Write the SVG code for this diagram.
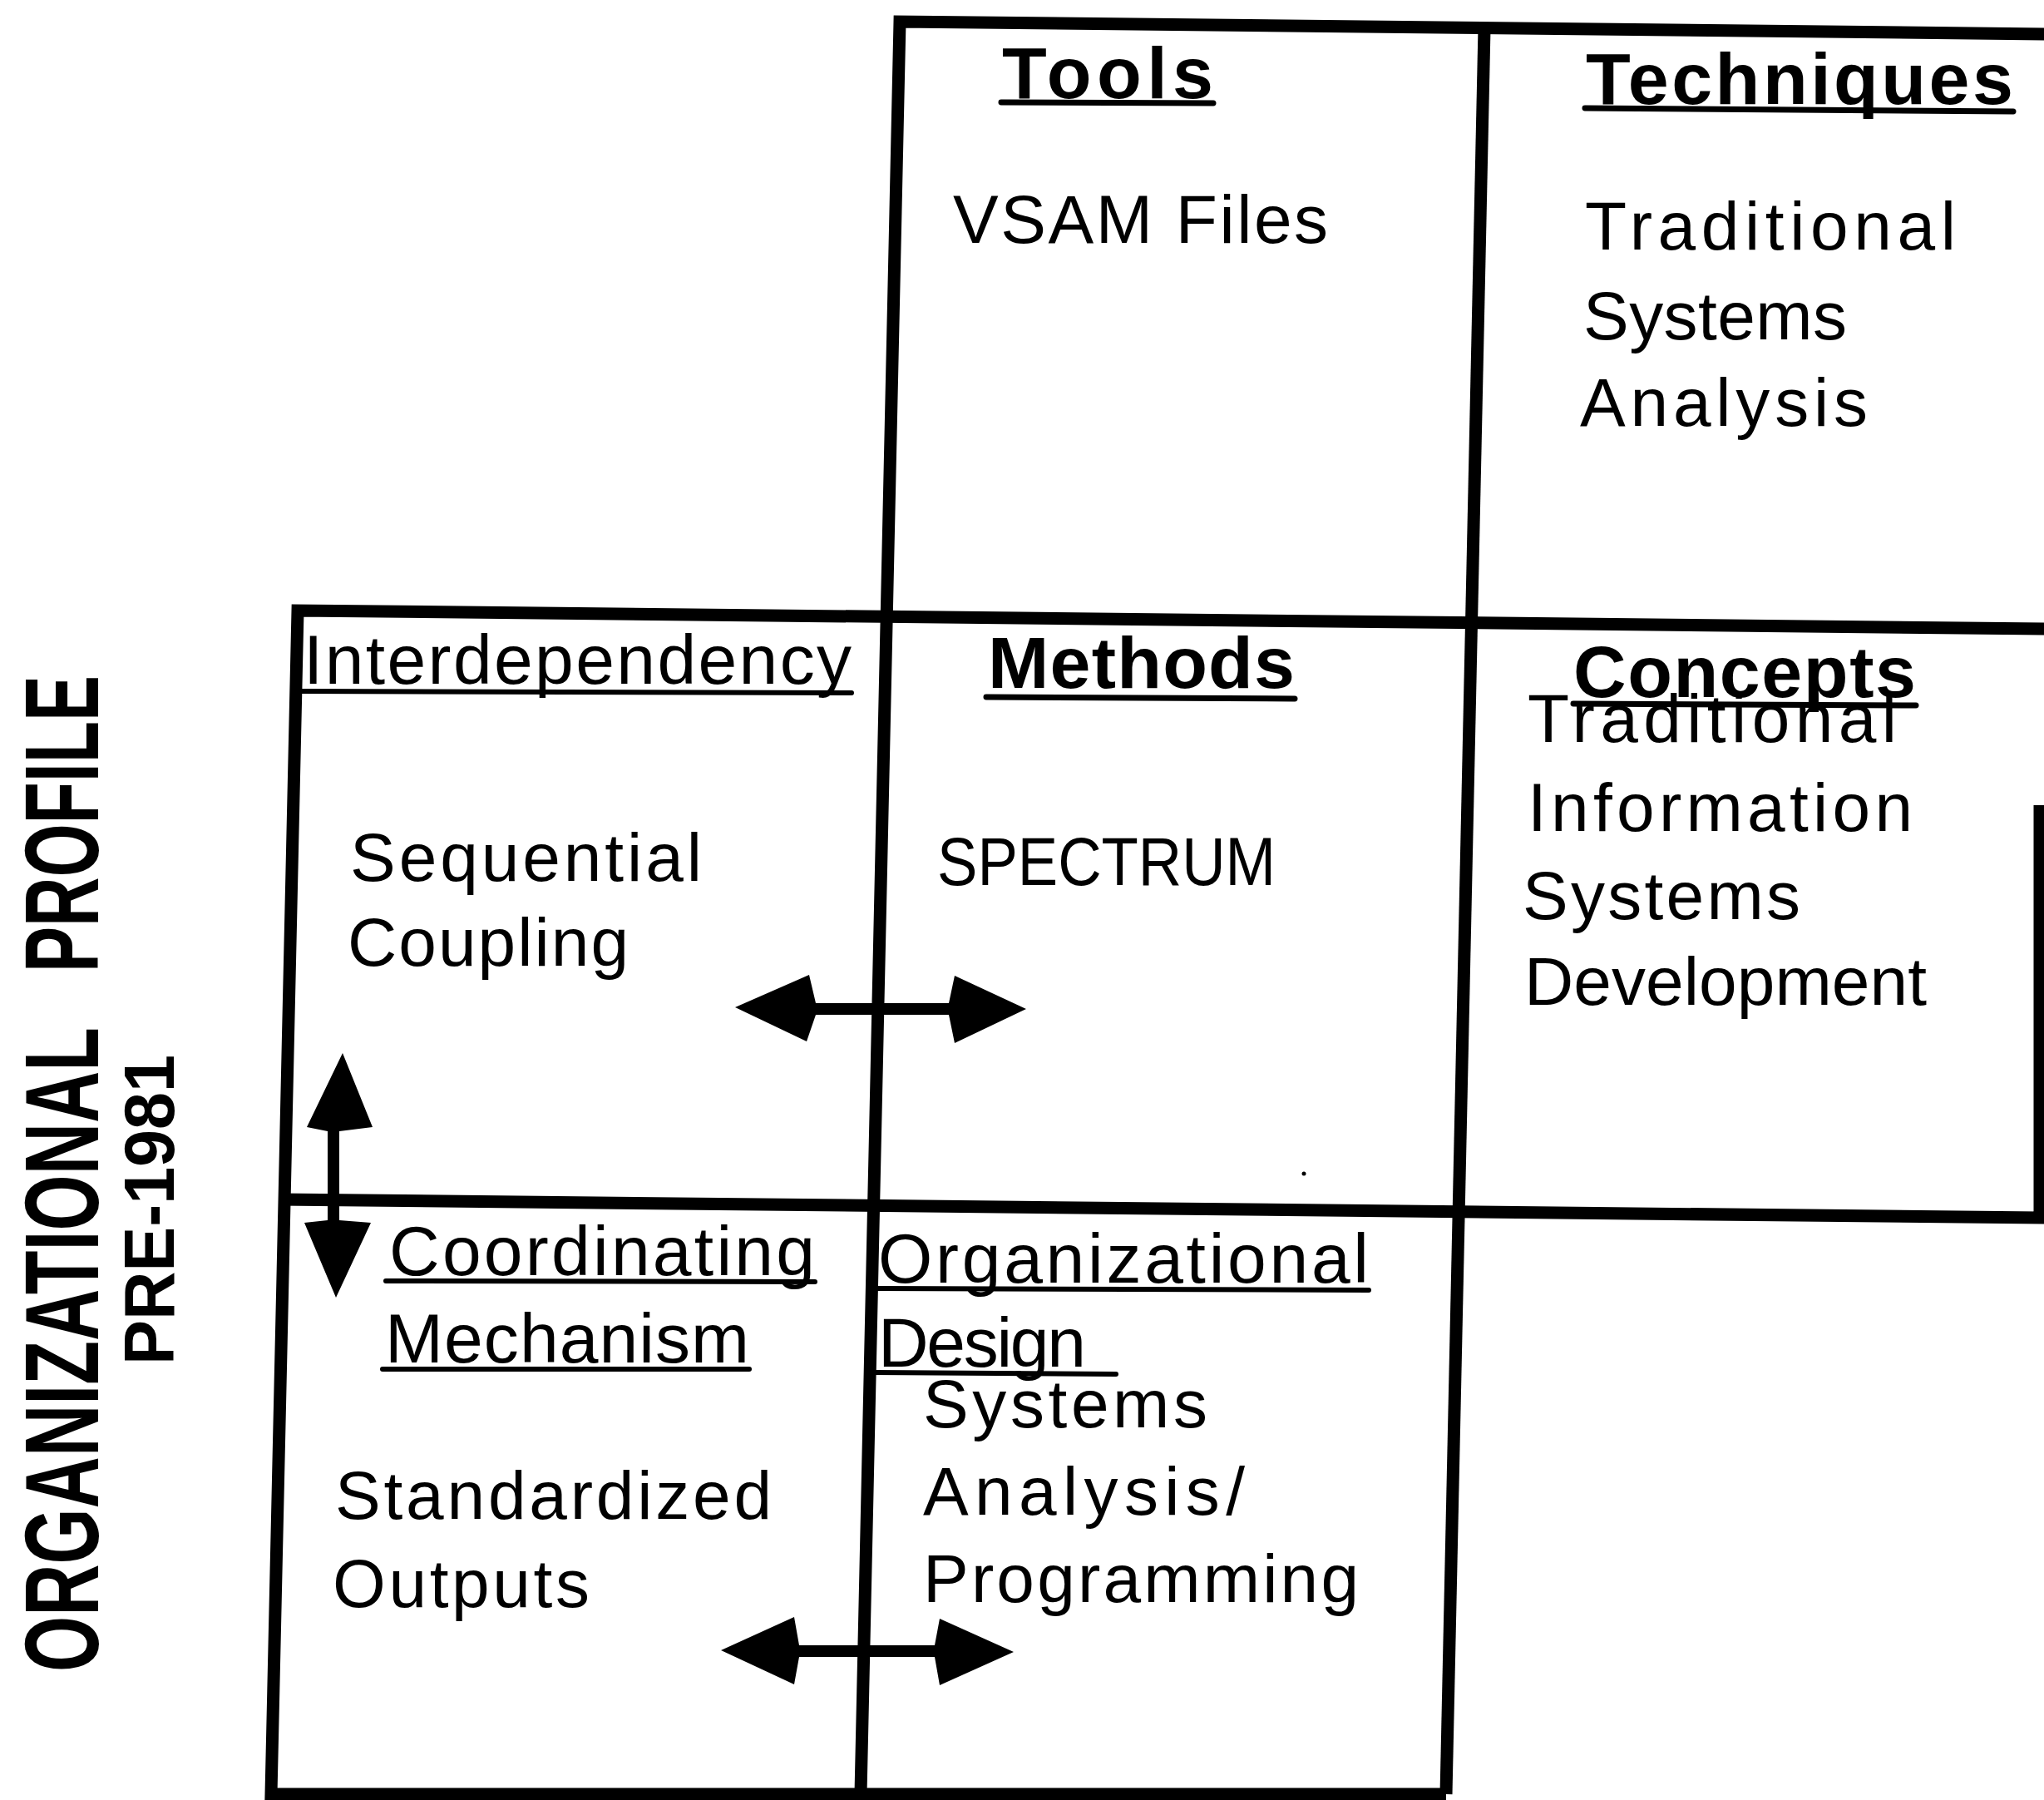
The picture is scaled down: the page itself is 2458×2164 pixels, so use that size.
<svg xmlns="http://www.w3.org/2000/svg" width="2458" height="2164" viewBox="0 0 2458 2164">
  <style>
    .grid { fill: none; stroke: #000; stroke-width: 15; stroke-linecap: butt; stroke-linejoin: miter; }
    .ul { stroke: #000; stroke-width: 7; stroke-linecap: round; }
    .ul-thin { stroke: #000; stroke-width: 6; stroke-linecap: round; }
    .head { font-family: "Liberation Sans", Arial, sans-serif; font-weight: bold; font-size: 88px; fill: #000; }
    .sub { font-family: "Liberation Sans", Arial, sans-serif; font-size: 84px; fill: #000; }
    .body { font-family: "Liberation Sans", Arial, sans-serif; font-size: 82px; fill: #000; }
    .title { font-family: "Liberation Sans", Arial, sans-serif; font-weight: bold; fill: #000; }
    .arrow { fill: #000; stroke: none; }
  </style>

  <!-- side title, read bottom to top -->
  <g id="side-title">
    <text class="title" font-size="126" transform="translate(118,2010) rotate(-90)" textLength="775" lengthAdjust="spacingAndGlyphs">ORGANIZATIONAL</text>
    <text class="title" font-size="126" transform="translate(118,1169) rotate(-90)" textLength="357" lengthAdjust="spacingAndGlyphs">PROFILE</text>
    <text class="title" font-size="86" transform="translate(209,1641) rotate(-90)" textLength="373" lengthAdjust="spacingAndGlyphs">PRE-1981</text>
  </g>

  <!-- cell borders -->
  <g id="grid">
    <path class="grid" d="M2465,41 L1082,26 L1035,2157"/>
    <path class="grid" d="M1785,34 L1739,2157"/>
    <path class="grid" d="M2465,756 L358,734 L326,2157 L1739,2157"/>
    <path class="grid" d="M336,1442 L2453,1464 L2453,968"/>
  </g>

  <g id="tools">
    <text class="head" x="1205" y="118" textLength="254" lengthAdjust="spacing">Tools</text>
    <line class="ul" x1="1204" y1="123" x2="1459" y2="124"/>
    <text class="body" x="1146" y="292" textLength="451" lengthAdjust="spacing">VSAM Files</text>
  </g>

  <g id="techniques">
    <text class="head" x="1907" y="125" textLength="514" lengthAdjust="spacing">Techniques</text>
    <line class="ul" x1="1906" y1="130" x2="2421" y2="134"/>
    <text class="body" x="1906" y="300" textLength="446" lengthAdjust="spacing">Traditional</text>
    <text class="body" x="1904" y="408" textLength="317" lengthAdjust="spacing">Systems</text>
    <text class="body" x="1900" y="512" textLength="346" lengthAdjust="spacing">Analysis</text>
  </g>

  <g id="interdependency">
    <text class="sub" x="365" y="822" textLength="659" lengthAdjust="spacing">Interdependency</text>
    <line class="ul-thin" x1="362" y1="831" x2="1024" y2="833"/>
    <text class="body" x="421" y="1059" textLength="423" lengthAdjust="spacing">Sequential</text>
    <text class="body" x="418" y="1161" textLength="338" lengthAdjust="spacing">Coupling</text>
  </g>

  <g id="methods">
    <text class="head" x="1188" y="827" textLength="369" lengthAdjust="spacing">Methods</text>
    <line class="ul" x1="1186" y1="838" x2="1557" y2="840"/>
    <text class="body" x="1127" y="1064" textLength="407" lengthAdjust="spacingAndGlyphs">SPECTRUM</text>
  </g>

  <g id="concepts">
    <text class="head" x="1892" y="838" textLength="412" lengthAdjust="spacing">Concepts</text>
    <line class="ul" x1="1892" y1="846" x2="2304" y2="848"/>
    <text class="body" x="1837" y="892" textLength="444" lengthAdjust="spacing">Traditional</text>
    <text class="body" x="1837" y="999" textLength="463" lengthAdjust="spacing">Information</text>
    <text class="body" x="1831" y="1105" textLength="334" lengthAdjust="spacing">Systems</text>
    <text class="body" x="1833" y="1208" textLength="484" lengthAdjust="spacing">Development</text>
  </g>

  <g id="coordinating-mechanism">
    <text class="sub" x="468" y="1533" textLength="512" lengthAdjust="spacing">Coordinating</text>
    <line class="ul-thin" x1="464" y1="1540" x2="980" y2="1541"/>
    <text class="sub" x="463" y="1638" textLength="438" lengthAdjust="spacing">Mechanism</text>
    <line class="ul-thin" x1="460" y1="1646" x2="901" y2="1646"/>
    <text class="body" x="403" y="1826" textLength="525" lengthAdjust="spacing">Standardized</text>
    <text class="body" x="400" y="1932" textLength="309" lengthAdjust="spacing">Outputs</text>
  </g>

  <g id="organizational-design">
    <text class="sub" x="1056" y="1542" textLength="590" lengthAdjust="spacing">Organizational</text>
    <line class="ul-thin" x1="1052" y1="1549" x2="1646" y2="1551"/>
    <text class="sub" x="1056" y="1643" textLength="250" lengthAdjust="spacing">Design</text>
    <line class="ul-thin" x1="1050" y1="1650" x2="1342" y2="1652"/>
    <text class="body" x="1110" y="1716" textLength="342" lengthAdjust="spacing">Systems</text>
    <text class="body" x="1110" y="1821" textLength="387" lengthAdjust="spacing">Analysis/</text>
    <text class="body" x="1110" y="1926" textLength="524" lengthAdjust="spacing">Programming</text>
  </g>

  <!-- double-headed arrows between cells -->
  <g id="connectors">
    <path class="arrow" d="M884,1211 L973,1172 L981,1206 L1141,1206 L1148,1173 L1234,1213 L1148,1254 L1141,1220 L981,1220 L970,1252 Z"/>
    <path class="arrow" d="M412,1266 L448,1355 L408,1360 L408,1467 L446,1470 L404,1560 L366,1470 L394,1467 L394,1360 L369,1355 Z"/>
    <path class="arrow" d="M867,1984 L955,1944 L961,1978 L1124,1978 L1130,1946 L1219,1986 L1130,2026 L1124,1992 L961,1992 L955,2025 Z"/>
  </g>

  <circle cx="1568" cy="1411" r="2.5" fill="#000"/>
</svg>
